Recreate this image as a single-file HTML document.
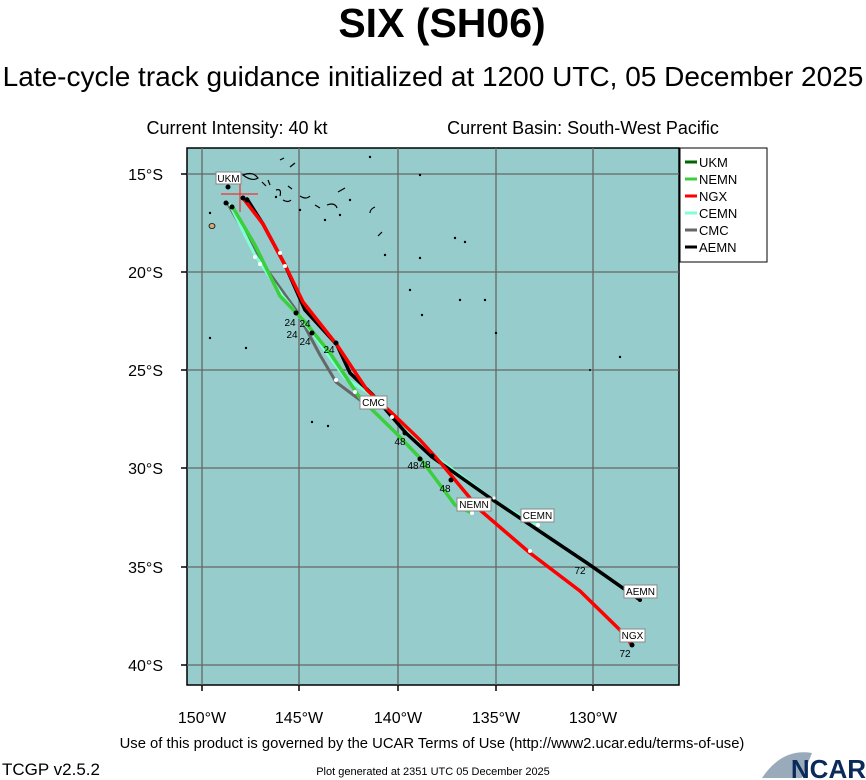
<!DOCTYPE html>
<html><head><style>
body{margin:0;background:#fff;width:866px;height:780px;overflow:hidden}
svg{display:block;font-family:"Liberation Sans",sans-serif}
</style></head><body>
<svg width="866" height="780" viewBox="0 0 866 780">
<text x="442" y="37" font-size="41" font-weight="bold" text-anchor="middle">SIX (SH06)</text>
<text x="433" y="86" font-size="28" text-anchor="middle">Late-cycle track guidance initialized at 1200 UTC, 05 December 2025</text>
<text x="237" y="134" font-size="18" text-anchor="middle">Current Intensity: 40 kt</text>
<text x="583" y="134" font-size="18" text-anchor="middle">Current Basin: South-West Pacific</text>
<rect x="187" y="148" width="492" height="537" fill="#96cdcc" stroke="#000" stroke-width="1.5"/>
<g stroke="#666" stroke-width="1.3">
<line x1="202" y1="148" x2="202" y2="685"/><line x1="299" y1="148" x2="299" y2="685"/><line x1="398" y1="148" x2="398" y2="685"/><line x1="496" y1="148" x2="496" y2="685"/><line x1="593" y1="148" x2="593" y2="685"/>
<line x1="187" y1="174" x2="679" y2="174"/><line x1="187" y1="272" x2="679" y2="272"/><line x1="187" y1="370" x2="679" y2="370"/><line x1="187" y1="468" x2="679" y2="468"/><line x1="187" y1="567" x2="679" y2="567"/><line x1="187" y1="665" x2="679" y2="665"/>
</g>
<g stroke="#000" stroke-width="1.5">
<line x1="202" y1="685" x2="202" y2="691"/><line x1="299" y1="685" x2="299" y2="691"/><line x1="398" y1="685" x2="398" y2="691"/><line x1="496" y1="685" x2="496" y2="691"/><line x1="593" y1="685" x2="593" y2="691"/>
<line x1="181" y1="174" x2="187" y2="174"/><line x1="181" y1="272" x2="187" y2="272"/><line x1="181" y1="370" x2="187" y2="370"/><line x1="181" y1="468" x2="187" y2="468"/><line x1="181" y1="567" x2="187" y2="567"/><line x1="181" y1="665" x2="187" y2="665"/>
</g>
<g font-size="16" text-anchor="end">
<text x="163" y="180">15°S</text><text x="163" y="278">20°S</text><text x="163" y="376">25°S</text><text x="163" y="474">30°S</text><text x="163" y="573">35°S</text><text x="163" y="671">40°S</text>
</g>
<g font-size="16" text-anchor="middle">
<text x="202" y="723">150°W</text><text x="299" y="723">145°W</text><text x="398" y="723">140°W</text><text x="496" y="723">135°W</text><text x="593" y="723">130°W</text>
</g>
<g fill="none" stroke="#000" stroke-width="1.2">
<path d="M243 175 q10 -4 15 3 q-6 4 -15 -3z"/><path d="M262 182 l4 4 M268 180 l2 5 M276 190 q6 -2 4 6 M283 200 q5 3 8 0 M288 186 l4 3 M300 196 q6 4 10 0 M315 205 l5 3 M327 205 q8 -3 10 3 M338 192 l7 -4 M370 213 q0 -4 5 -6 M378 236 l4 -4 M280 160 l4 -2 M295 163 l-5 4"/>
</g>
<g fill="#000">
<circle cx="276" cy="197" r="1.2"/><circle cx="300" cy="210" r="1.2"/><circle cx="325" cy="220" r="1.2"/><circle cx="340" cy="215" r="1.2"/><circle cx="350" cy="200" r="1.2"/><circle cx="385" cy="255" r="1.2"/><circle cx="420" cy="258" r="1.2"/><circle cx="455" cy="238" r="1.2"/><circle cx="465" cy="242" r="1.2"/><circle cx="410" cy="290" r="1.2"/><circle cx="422" cy="315" r="1.2"/><circle cx="460" cy="300" r="1.2"/><circle cx="485" cy="300" r="1.2"/><circle cx="496" cy="333" r="1.2"/><circle cx="210" cy="338" r="1.2"/><circle cx="246" cy="348" r="1.2"/><circle cx="312" cy="422" r="1.2"/><circle cx="328" cy="426" r="1.2"/><circle cx="620" cy="357" r="1.2"/><circle cx="590" cy="370" r="1"/><circle cx="210" cy="213" r="1.2"/><circle cx="370" cy="157" r="1.2"/><circle cx="420" cy="175" r="1.2"/>
</g>
<ellipse cx="212" cy="226" rx="3" ry="2.5" fill="#d2a878" stroke="#000" stroke-width="0.8"/>
<g fill="none" stroke-linejoin="round" stroke-linecap="round">
<polyline stroke="#666" stroke-width="3" points="228,204 260,260 296,310 320,355 336,382 360,400"/>
<polyline stroke="#7fffd4" stroke-width="3" points="230,205 255,255 282,295 310,330 345,378 380,400 420,445 460,475 500,505 538,525"/>
<polyline stroke="#3ccf3c" stroke-width="3.5" points="232,206 255,245 280,296 305,322 330,353 360,398 395,432 420,458 455,505 472,513"/>
<polyline stroke="#000" stroke-width="3.5" points="247,199 263,224 285,265 305,310 337,345 350,373 373,395 406,433 432,457 493,500 590,565 640,600"/>
<polyline stroke="#f00" stroke-width="3.5" points="243,198 263,224 285,265 303,302 337,345 367,390 395,416 420,440 440,462 480,510 530,553 580,591 620,630 632,645"/>
</g>
<g fill="#000">
<circle cx="228" cy="187" r="2.5"/><circle cx="226" cy="203" r="2.5"/><circle cx="243" cy="198" r="2.5"/><circle cx="247" cy="200" r="2.5"/><circle cx="232" cy="207" r="2.5"/>
<circle cx="296" cy="313" r="2.5"/><circle cx="312" cy="333" r="2.5"/><circle cx="336" cy="343" r="2.5"/><circle cx="405" cy="433" r="2.5"/><circle cx="420" cy="459" r="2.5"/><circle cx="432" cy="456" r="2.5"/><circle cx="451" cy="480" r="2.5"/><circle cx="632" cy="645" r="2.5"/><circle cx="640" cy="600" r="2"/>
</g>
<g fill="#fff"><circle cx="255" cy="257" r="2"/><circle cx="260" cy="264" r="2"/><circle cx="280" cy="253" r="2"/><circle cx="285" cy="266" r="2"/><circle cx="336" cy="380" r="2"/><circle cx="355" cy="392" r="2"/><circle cx="392" cy="417" r="2"/><circle cx="472" cy="513" r="2"/><circle cx="538" cy="525" r="2"/><circle cx="530" cy="551" r="2"/><circle cx="494" cy="498" r="1.6"/></g>
<g stroke="#e33" stroke-width="1.2"><line x1="221" y1="194" x2="258" y2="194"/><line x1="240" y1="180" x2="240" y2="212"/></g>
<g font-size="10" text-anchor="middle">
<text x="290" y="326">24</text><text x="305" y="327">24</text><text x="292" y="338">24</text><text x="305" y="345">24</text><text x="329" y="353">24</text>
<text x="400" y="445">48</text><text x="413" y="469">48</text><text x="425" y="468">48</text><text x="445" y="492">48</text>
<text x="580" y="574">72</text><text x="625" y="657">72</text>
</g>
<g font-size="10" text-anchor="middle">
<rect x="216" y="172" width="25" height="12" fill="#fff" stroke="#888"/><text x="228.5" y="182">UKM</text>
<rect x="360" y="396" width="27" height="13" fill="#fff" stroke="#888"/><text x="373.5" y="406">CMC</text>
<rect x="457" y="498" width="34" height="13" fill="#fff" stroke="#888"/><text x="474" y="508">NEMN</text>
<rect x="521" y="509" width="33" height="13" fill="#fff" stroke="#888"/><text x="537.5" y="519">CEMN</text>
<rect x="624" y="585" width="33" height="13" fill="#fff" stroke="#888"/><text x="640.5" y="595">AEMN</text>
<rect x="620" y="629" width="25" height="13" fill="#fff" stroke="#888"/><text x="632.5" y="639">NGX</text>
</g>
<rect x="680" y="148" width="87" height="114" fill="#fff" stroke="#000"/>
<g stroke-width="3">
<line x1="685" y1="162" x2="697" y2="162" stroke="#006400"/>
<line x1="685" y1="179" x2="697" y2="179" stroke="#3ccf3c"/>
<line x1="685" y1="196" x2="697" y2="196" stroke="#f00"/>
<line x1="685" y1="213" x2="697" y2="213" stroke="#7fffd4"/>
<line x1="685" y1="230" x2="697" y2="230" stroke="#666"/>
<line x1="685" y1="247" x2="697" y2="247" stroke="#000"/>
</g>
<g font-size="13"><text x="699" y="167">UKM</text><text x="699" y="184">NEMN</text><text x="699" y="201">NGX</text><text x="699" y="218">CEMN</text><text x="699" y="235">CMC</text><text x="699" y="252">AEMN</text></g>
<text x="432" y="748" font-size="14.8" text-anchor="middle">Use of this product is governed by the UCAR Terms of Use (http://www2.ucar.edu/terms-of-use)</text>
<text x="2" y="775" font-size="17">TCGP v2.5.2</text>
<text x="433" y="775" font-size="11" text-anchor="middle">Plot generated at 2351 UTC   05 December 2025</text>
<path d="M762 778 q20 -30 50 -25 l-10 25z" fill="#9ab"/>
<text x="866" y="778" font-size="26" font-weight="bold" fill="#0a2a5a" text-anchor="end">NCAR</text>
</svg>
</body></html>
